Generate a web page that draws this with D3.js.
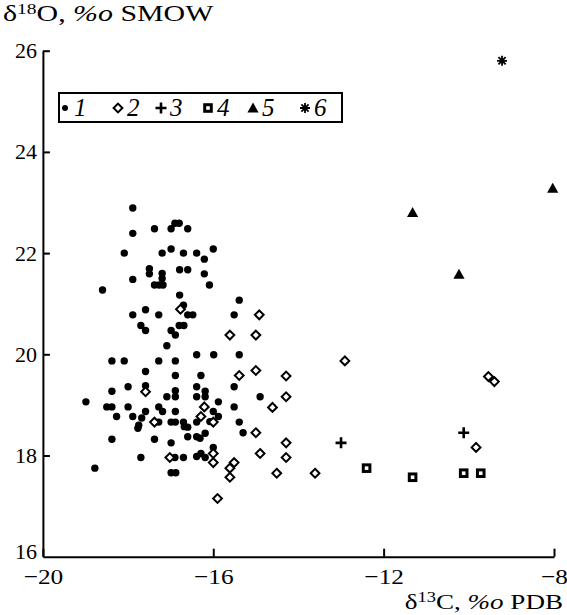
<!DOCTYPE html>
<html>
<head>
<meta charset="utf-8">
<script src="https://cdn.jsdelivr.net/npm/d3@7"></script>
<style>
  body { margin: 0; background: #fff; }
  svg { display: block; font-family: "Liberation Serif", "Times New Roman", serif; }
  .axis text { font-family: "Liberation Serif", "Times New Roman", serif; font-size: 22px; fill: #000; }
  .axis line, .axis path { stroke: #000; stroke-width: 2; }
</style>
</head>
<body>
<svg width="567" height="615"></svg>
<script>
// δ13C (x), δ18O (y) for each group
const group1 = [
  [-17.89,22.89],[-17.89,22.39],[-17.38,22.48],[-16.99,22.48],[-16.90,22.59],[-16.80,22.59],[-16.60,22.48],
  [-18.09,22.00],[-17.20,22.00],[-16.99,22.08],[-16.70,22.00],[-16.39,22.00],[-16.21,21.88],[-16.00,22.08],
  [-17.50,21.69],[-17.50,21.59],[-17.20,21.60],[-17.20,21.50],[-16.79,21.67],[-16.60,21.67],[-16.21,21.59],
  [-17.89,21.48],[-17.38,21.37],[-17.27,21.37],[-17.18,21.37],[-16.09,21.37],[-18.60,21.27],[-16.79,21.17],
  [-15.39,21.07],[-16.70,20.97],[-17.89,20.78],[-17.59,20.88],[-17.28,20.78],[-16.60,20.78],[-16.48,20.78],
  [-15.51,20.78],[-17.70,20.57],[-17.59,20.47],[-16.99,20.47],[-16.89,20.38],[-16.80,20.57],[-16.69,20.57],
  [-17.09,20.17],[-16.39,19.99],[-15.99,19.99],[-15.39,19.99],[-18.38,19.87],[-18.09,19.87],[-17.28,19.87],
  [-16.89,19.87],[-17.59,19.66],[-16.89,19.58],[-16.29,19.58],[-18.00,19.36],[-17.59,19.38],[-18.38,19.27],
  [-16.89,19.28],[-16.39,19.36],[-16.19,19.27],[-17.09,19.16],[-16.89,19.16],[-16.39,19.16],[-16.19,19.16],
  [-15.51,19.36],[-14.90,19.16],[-18.99,19.06],[-15.88,19.06],[-18.50,18.96],[-18.38,18.96],[-18.00,18.96],
  [-17.28,18.96],[-17.19,18.87],[-15.51,18.96],[-17.59,18.87],[-16.89,18.87],[-18.27,18.77],[-17.89,18.77],
  [-17.68,18.74],[-17.75,18.60],[-17.77,18.54],[-17.28,18.66],[-16.99,18.66],[-16.89,18.66],[-16.70,18.66],
  [-16.68,18.57],[-16.60,18.56],[-16.39,18.66],[-16.00,18.87],[-15.88,18.77],[-15.39,18.66],[-15.30,18.45],
  [-18.38,18.32],[-17.38,18.32],[-16.60,18.37],[-16.39,18.37],[-16.31,18.34],[-16.19,18.44],[-14.61,18.95],
  [-16.08,18.67],[-16.99,18.25],[-16.00,18.16],[-17.70,17.96],[-16.90,17.96],[-16.70,17.96],[-16.39,17.98],
  [-16.29,18.04],[-16.19,17.96],[-18.78,17.75],[-16.99,17.66],[-16.88,17.66]
];
const group2 = [
  [-16.77,20.89],[-14.92,20.78],[-15.61,20.38],[-15.00,20.38],[-15.39,19.58],[-15.00,19.68],[-17.59,19.26],
  [-16.21,18.96],[-17.38,18.66],[-16.29,18.77],[-16.00,18.66],[-15.00,18.45],[-16.00,18.04],[-16.00,17.86],
  [-15.51,17.86],[-15.61,17.75],[-15.61,17.57],[-14.90,18.04],[-15.90,17.15],[-17.02,17.96],[-12.91,19.87],
  [-14.29,19.57],[-14.29,19.16],[-14.61,18.95],[-14.29,18.25],[-14.29,17.96],[-14.51,17.65],[-13.61,17.65],
  [-9.54,19.56],[-9.40,19.46],[-9.83,18.16]
];
const group3 = [[-13.00,18.25],[-10.12,18.45]];
const group4 = [[-12.40,17.75],[-11.32,17.57],[-10.12,17.65],[-9.72,17.65]];
const group5 = [[-8.03,23.28],[-11.32,22.80],[-10.23,21.58]];
const group6 = [[-9.22,25.80]];

const xTicks = [-20, -16, -12, -8];
const yTicks = [16, 18, 20, 22, 24, 26];
const legendLabels = ["1", "2", "3", "4", "5", "6"];

const svg = d3.select("svg");
const x = d3.scaleLinear().domain([-20, -8]).range([42.9, 554]);
const y = d3.scaleLinear().domain([16, 26]).range([556.7, 50.7]);

// axes, ticks pointing inward
svg.append("g").attr("class", "axis")
  .attr("transform", `translate(0,${y(16)})`)
  .call(d3.axisBottom(x).tickValues(xTicks).tickSize(-8).tickSizeOuter(0).tickPadding(10)
    .tickFormat(d => "\u2212" + Math.abs(d)))
  .selectAll("text").attr("dy", "0.8em").attr("transform", "scale(1.15,1)");

svg.append("g").attr("class", "axis")
  .attr("transform", `translate(${x(-20)},0)`)
  .call(d3.axisLeft(y).tickValues(yTicks).tickSize(-7).tickSizeOuter(0).tickPadding(6))
  .call(g => g.selectAll(".tick").filter(d => d === 16).select("line").remove())
  .call(g => g.selectAll(".tick").filter(d => d === 16).select("text").attr("dy", "0.1em"));

// axis titles (the original lettering is wider than Times)
const yTitle = svg.append("text").attr("x", 3 / 1.3).attr("y", 21)
  .attr("transform", "scale(1.3,1)").style("font-size", "23px");
yTitle.append("tspan").text("\u03b4");
yTitle.append("tspan").attr("dy", -7).style("font-size", "15px").text("18");
yTitle.append("tspan").attr("dy", 7).text("O, ");
yTitle.append("tspan").style("font-style", "italic").text("%o");
yTitle.append("tspan").text(" SMOW");

const xTitle = svg.append("text").attr("x", 563 / 1.23).attr("y", 609)
  .attr("transform", "scale(1.23,1)")
  .attr("text-anchor", "end").style("font-size", "22px");
xTitle.append("tspan").text("\u03b4");
xTitle.append("tspan").attr("dy", -7).style("font-size", "15px").text("13");
xTitle.append("tspan").attr("dy", 7).text("C, ");
xTitle.append("tspan").style("font-style", "italic").text("%o");
xTitle.append("tspan").text(" PDB");

// marker painters
function dot(g) { g.append("circle").attr("r", 3.7).attr("fill", "#000"); }
function diamond(g) {
  g.append("path").attr("d", "M0,-4.4L4.4,0L0,4.4L-4.4,0Z")
    .attr("fill", "#fff").attr("stroke", "#000").attr("stroke-width", 2);
}
function plus(g) {
  g.append("path").attr("d", "M-5.5,0H5.5M0,-5.5V5.5")
    .attr("stroke", "#000").attr("stroke-width", 2.6);
}
function square(g) {
  g.append("rect").attr("x", -3.3).attr("y", -3.3).attr("width", 6.6).attr("height", 6.6)
    .attr("fill", "#fff").attr("stroke", "#000").attr("stroke-width", 3);
}
function triangle(g) {
  g.append("path").attr("d", "M0,-5.5L5.6,4.5L-5.6,4.5Z").attr("fill", "#000");
}
function star(g) {
  g.append("path").attr("d", "M-5,0H5M0,-5V5M-3.6,-3.6L3.6,3.6M-3.6,3.6L3.6,-3.6")
    .attr("stroke", "#000").attr("stroke-width", 1.8);
  g.append("circle").attr("r", 2.4).attr("fill", "#000");
}

const groups = [
  { data: group1, draw: dot },
  { data: group2, draw: diamond },
  { data: group3, draw: plus },
  { data: group4, draw: square },
  { data: group5, draw: triangle },
  { data: group6, draw: star }
];

const plot = svg.append("g");
groups.forEach(gr => {
  plot.append("g").selectAll("g").data(gr.data).enter().append("g")
    .attr("transform", d => `translate(${x(d[0])},${y(d[1])})`)
    .each(function() { gr.draw(d3.select(this)); });
});

// legend
const legend = svg.append("g");
legend.append("rect").attr("x", 59).attr("y", 93).attr("width", 283).attr("height", 29)
  .attr("fill", "#fff").attr("stroke", "#000").attr("stroke-width", 2);
const legendX = [65, 118, 161, 208, 253, 305];
const legendDraw = [
  g => g.append("circle").attr("r", 3).attr("fill", "#000"),
  diamond, plus, square, triangle, star
];
legendLabels.forEach((lab, i) => {
  const item = legend.append("g").attr("transform", `translate(${legendX[i]},108)`);
  legendDraw[i](item);
  legend.append("text").attr("x", legendX[i] + 9).attr("y", 116)
    .style("font-size", "25px").style("font-style", "italic").text(lab);
});
</script>
</body>
</html>
